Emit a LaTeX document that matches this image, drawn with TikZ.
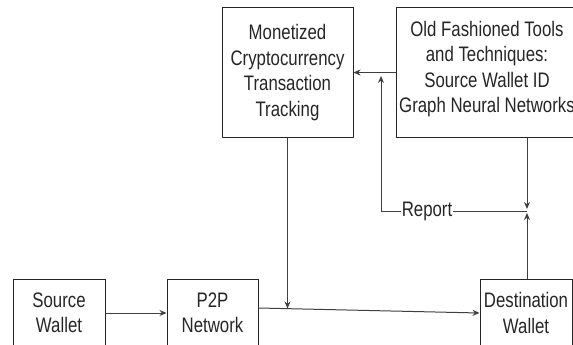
\documentclass[tikz,border=0pt]{standalone}
\usepackage{fontspec}
\setmainfont{Liberation Sans}[FakeStretch=0.8]
\usetikzlibrary{arrows.meta,calc}
\begin{document}
\begin{tikzpicture}[x=1pt,y=-1pt,
  txt/.style={font=\fontsize{21}{25.5}\selectfont, text=black!85},
  box/.style={txt, draw=black!85, line width=1pt, align=center, inner sep=0pt},
  conn/.style={draw=black!75, line width=1pt},
  arr/.style={conn, -{Stealth[length=7pt,width=6pt]}}]
\useasboundingbox (0,0) rectangle (573,345);
\clip (0,0) rectangle (573,345);
\fill[white] (0,0) rectangle (573,345);

\node[box, minimum width=92pt, minimum height=68pt] (src) at (59,313) {Source\\Wallet};
\node[box, minimum width=91pt, minimum height=68pt] (p2p) at (212.5,313) {P2P\\Network};
\node[box, minimum width=92pt, minimum height=68pt] (dst) at (526,313) {Destination\\Wallet};
\node[box, minimum width=131pt, minimum height=129pt] (mon) at (287.5,72.5) {Monetized\\Cryptocurrency\\Transaction\\Tracking};
\node[box, minimum width=182pt, minimum height=129pt] (old) at (487,72.5) {Old Fashioned Tools\\and Techniques:\\Source Wallet ID\\Graph Neural Networks\\[-14pt]\mbox{}};

\draw[arr] (src) -- (p2p);
\coordinate (pa) at ($(p2p.east)+(0,-5)$);
\draw[arr] (pa) -- (dst.west);
\coordinate (j) at (287.5,308.5);
\draw[arr] (mon.south) -- (j);
\draw[arr] (old.west) -- (mon.east);
\coordinate (m) at (527,211);
\draw[arr, shorten >=2pt] (old.south -| m) -- (m);
\draw[arr, shorten >=2pt] (dst.north -| m) -- (m);
\coordinate (r) at (381,76);
\draw[arr] (m) -- node[txt, pos=0.685, fill=white, inner sep=1pt] (rep) {Report} (m -| r) -- (r);
\end{tikzpicture}
\end{document}
